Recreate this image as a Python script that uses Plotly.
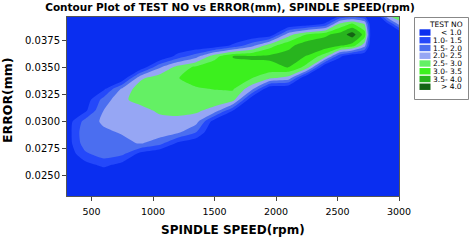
import plotly.graph_objects as go

# ---------------- data ----------------
spindle_speed = [300, 450, 600, 750, 900, 1050, 1200, 1350, 1500, 1650, 1800,
                 1950, 2100, 2250, 2400, 2520, 2620, 2720, 2780, 2900, 3000]

error_mm = [0.040, 0.039, 0.038, 0.037, 0.036, 0.035, 0.034, 0.033, 0.032,
            0.031, 0.030, 0.029, 0.028, 0.027, 0.026, 0.025, 0.024, 0.023]

# TEST NO, one row per error_mm value (top row = 0.040)
test_no = [
    [.3, .3, .3, .3, .3, .3, .3, .3, .3, .3, .3, .3, .3, .3, .3, .4, .5, .4, .3, 2.8, 3.2],
    [.3, .3, .3, .3, .3, .3, .3, .3, .3, .3, .3, .35, .35, .6, 1.05, 2.6, 3.05, 2.45, .3, .8, 2.2],
    [.3, .3, .3, .3, .3, .3, .3, .35, .35, .4, .5, .6, 2.3, 3.02, 3.4, 3.7, 4.25, 3.3, .3, .3, .3],
    [.3, .3, .3, .3, .35, .35, .4, .5, .6, 1.1, 1.8, 2.8, 3.35, 3.8, 3.85, 3.55, 3.3, 2.2, .3, .3, .3],
    [.3, .3, .35, .35, .4, .4, 1.2, 1.8, 2.8, 3.52, 3.55, 3.6, 3.7, 3.48, 2.7, 1.1, .5, .4, .3, .3, .3],
    [.35, .4, .4, .45, .6, 1.9, 2.7, 3.1, 3.35, 3.4, 3.4, 3.35, 3.52, 2.8, .4, .3, .3, .3, .3, .3, .3],
    [.4, .5, .5, .6, 2.4, 2.8, 2.98, 3.2, 3.3, 3.3, 3.02, 2.6, 2.3, .4, .3, .3, .3, .3, .3, .3, .3],
    [.4, .6, .9, 2.1, 2.8, 2.9, 2.9, 2.95, 3.02, 3.05, 2.2, .5, .4, .3, .3, .3, .3, .3, .3, .3, .3],
    [.5, .7, 1.7, 2.45, 2.6, 2.75, 2.75, 2.75, 2.8, 2.7, .6, .4, .35, .3, .3, .3, .3, .3, .3, .3, .3],
    [.6, .9, 2.02, 2.4, 2.4, 2.55, 2.6, 2.6, 2.3, 1.0, .4, .3, .3, .3, .3, .3, .3, .3, .3, .3, .3],
    [.7, 1.7, 2.1, 2.25, 2.3, 2.4, 2.4, 2.2, .7, .5, .3, .3, .3, .3, .3, .3, .3, .3, .3, .3, .3],
    [.7, 1.9, 1.9, 2.05, 2.2, 2.3, 2.1, 1.5, .4, .4, .3, .3, .3, .3, .3, .3, .3, .3, .3, .3, .3],
    [.7, 1.8, 1.8, 1.85, 2.05, 1.7, .9, .6, .3, .3, .3, .3, .3, .3, .3, .3, .3, .3, .3, .3, .3],
    [.6, 1.4, 1.75, 1.6, .8, .5, .5, .4, .3, .3, .3, .3, .3, .3, .3, .3, .3, .3, .3, .3, .3],
    [.5, .8, 1.15, .8, .5, .4, .3, .3, .3, .3, .3, .3, .3, .3, .3, .3, .3, .3, .3, .3, .3],
    [.4, .5, .5, .5, .4, .3, .3, .3, .3, .3, .3, .3, .3, .3, .3, .3, .3, .3, .3, .3, .3],
    [.3, .4, .4, .4, .3, .3, .3, .3, .3, .3, .3, .3, .3, .3, .3, .3, .3, .3, .3, .3, .3],
    [.3, .3, .3, .3, .3, .3, .3, .3, .3, .3, .3, .3, .3, .3, .3, .3, .3, .3, .3, .3, .3],
]

x_ticks = [500, 1000, 1500, 2000, 2500, 3000]
y_ticks = [0.0250, 0.0275, 0.0300, 0.0325, 0.0350, 0.0375]
legend_labels = ["< 1.0", "1.0- 1.5", "1.5- 2.0", "2.0- 2.5",
                 "2.5- 3.0", "3.0- 3.5", "3.5- 4.0", "> 4.0"]
band_colors = ["#0a2ef0", "#2448fa", "#4b6ef0", "#96a6f4",
               "#64f064", "#3cf01e", "#28b41e", "#146414"]

# ---------------- layout geometry (pixels) ----------------
W, H = 473, 240
L, R, T, B = 67, 399, 17, 196
PW, PH = R - L, B - T


def px(x):
    return (x - L) / PW


def py(y):
    return (B - y) / PH


n = len(band_colors)
cscale = []
for k, c in enumerate(band_colors):
    lo = max(0.0, (k - 0.5) / (n - 1))
    hi = min(1.0, (k + 0.5) / (n - 1))
    cscale.append([lo, c])
    cscale.append([hi, c])

fig = go.Figure(go.Contour(
    x=spindle_speed,
    y=error_mm[::-1],
    z=test_no[::-1],
    autocontour=False,
    contours=dict(start=1.0, end=4.0, size=0.5, coloring="fill", showlines=False),
    colorscale=cscale,
    line=dict(width=0, smoothing=0.6),
    showscale=False,
    hoverinfo="skip",
))

FONT = "DejaVu Sans"

fig.update_layout(
    width=W, height=H,
    margin=dict(l=L, r=W - R, t=T, b=H - B, pad=0),
    paper_bgcolor="white", plot_bgcolor="white",
    showlegend=False,
    font=dict(family=FONT, color="black", size=10),
    title=dict(text="Contour Plot of TEST NO vs ERROR(mm), SPINDLE SPEED(rpm)",
               x=230 / W, xanchor="center", y=1 - 7 / H, yanchor="middle",
               font=dict(family=FONT, size=10.5, weight="bold", color="black")),
    xaxis=dict(range=[300, 3000], tickvals=x_ticks, ticktext=[str(v) for v in x_ticks],
               ticks="outside", ticklen=4, tickcolor="#444", showline=True,
               linecolor="#555", linewidth=1, mirror=True, showgrid=False,
               zeroline=False, tickfont=dict(size=9.5), ticklabelstandoff=3),
    yaxis=dict(range=[0.02313, 0.03962], tickvals=y_ticks, tickformat=".4f",
               ticks="outside", ticklen=4, tickcolor="#444", showline=True,
               linecolor="#555", linewidth=1, mirror=True, showgrid=False,
               zeroline=False, tickfont=dict(size=10)),
)

annotations = [
    dict(text="SPINDLE SPEED(rpm)", x=px(233), y=py(230), xref="paper", yref="paper",
         xanchor="center", yanchor="middle", showarrow=False,
         font=dict(family=FONT, size=12, weight="bold")),
    dict(text="ERROR(mm)", x=px(7.5), y=py(100.5), xref="paper", yref="paper",
         xanchor="center", yanchor="middle", textangle=-90, showarrow=False,
         font=dict(family=FONT, size=12.5, weight="bold")),
    dict(text="TEST NO", x=px(465), y=py(24.5), xref="paper", yref="paper",
         xanchor="right", yanchor="middle", showarrow=False,
         font=dict(family=FONT, size=7.5)),
]
shapes = [
    dict(type="rect", xref="paper", yref="paper", x0=px(414.5), x1=px(468.5),
         y0=py(99.5), y1=py(17.5), line=dict(color="#888", width=1), fillcolor="white",
         layer="above"),
]
row_h = 7.75
for k, (lab, c) in enumerate(zip(legend_labels, band_colors)):
    yc = 32.5 + row_h * k
    shapes.append(dict(type="rect", xref="paper", yref="paper",
                       x0=px(419.5), x1=px(430.5), y0=py(yc + 3.2), y1=py(yc - 3.2),
                       line=dict(width=0), fillcolor=c, layer="above"))
    annotations.append(dict(text=lab, x=px(464), y=py(yc), xref="paper", yref="paper",
                            xanchor="right", yanchor="middle", showarrow=False,
                            font=dict(family=FONT, size=7.5)))

fig.update_layout(annotations=annotations, shapes=shapes)

fig.write_html("out.html", config={"displayModeBar": False},
               post_script="document.body.style.margin='0px';document.body.style.overflow='hidden';")
